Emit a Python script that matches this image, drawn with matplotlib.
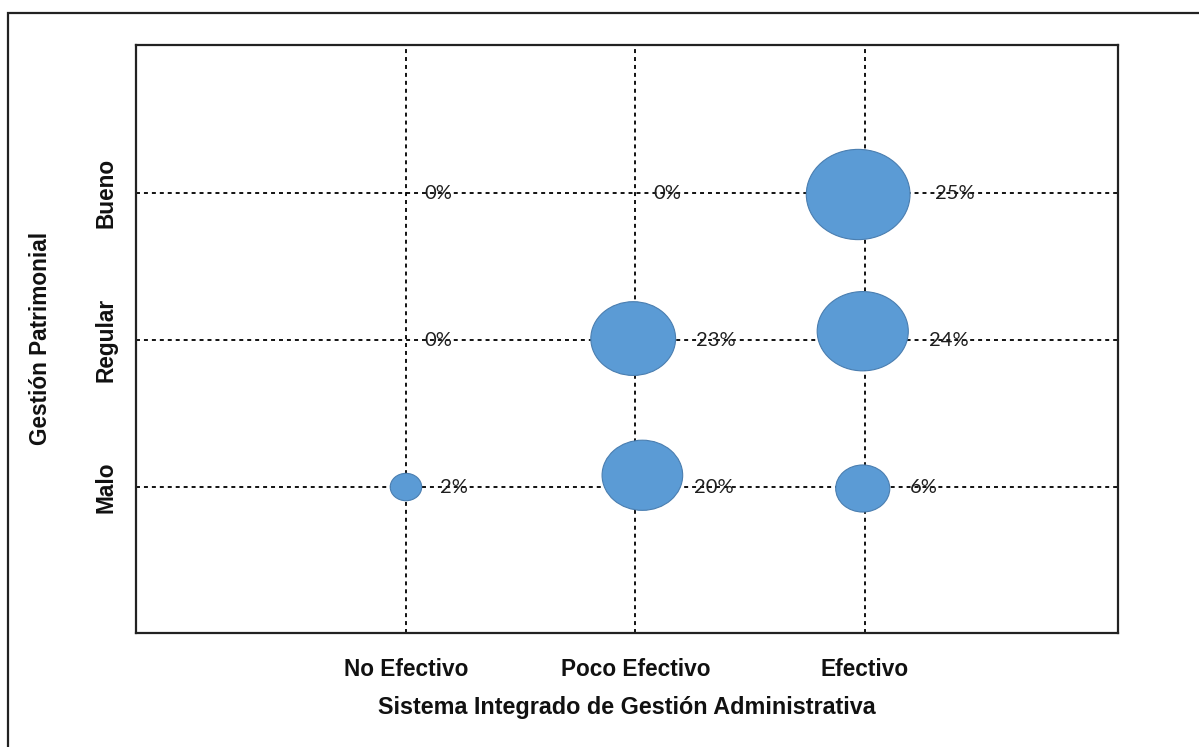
import numpy as np
import matplotlib
matplotlib.use('Agg')
import matplotlib.pyplot as plt
from matplotlib.patches import Ellipse, Rectangle

# categories
x_categories = ['No Efectivo', 'Poco Efectivo', 'Efectivo']
y_categories = ['Malo', 'Regular', 'Bueno']

# one entry per cell (x category, y category)
cell_x = [1, 1, 1, 2, 2, 2, 3, 3, 3]
cell_y = [1, 2, 3, 1, 2, 3, 1, 2, 3]
percent = [2, 0, 0, 20, 23, 0, 6, 24, 25]

# bubble centres and bubble sizes
bubble_x = [1.0, 1.0, 1.0, 2.03, 1.99, 2.0, 2.99, 2.99, 2.97]
bubble_y = [1.0, 2.0, 3.0, 1.08, 2.01, 3.0, 0.99, 2.06, 2.99]
bubble_size = [2.3, 0, 0, 15.1, 16.7, 0, 6.8, 19.3, 25.0]

W, H = 1199, 747
fig = plt.figure(figsize=(W / 100, H / 100), dpi=100)
ax = fig.add_axes([136 / W, (H - 633) / H, 982 / W, 588 / H])

ax.set_xlim(-0.176, 4.102)
ax.set_ylim(0.007, 4.007)

ax.set_xticks([1, 2, 3])
ax.set_yticks([1, 2, 3])
ax.set_xticklabels(x_categories)
ax.set_yticklabels(y_categories, rotation=90, rotation_mode='anchor',
                   ha='center', va='baseline')
ax.tick_params(length=0)
ax.tick_params(axis='x', pad=18)
ax.tick_params(axis='y', pad=17)
for t in ax.get_xticklabels() + ax.get_yticklabels():
    t.set_fontfamily('Liberation Sans')
    t.set_fontweight('bold')
    t.set_fontsize(16.3)
    t.set_color('#111111')

ax.grid(True, color='black', linestyle=(0, (2.2, 2.2)), linewidth=1.3)
ax.set_axisbelow(True)
for s in ax.spines.values():
    s.set_linewidth(1.6)
    s.set_color('#222222')

# pixel scale of the data axes
p0 = ax.transData.transform((0, 0))
p1 = ax.transData.transform((1, 1))
sx, sy = p1[0] - p0[0], p1[1] - p0[1]

stretch = 1.072
for bx, by, cx, cy, sz, pc in zip(bubble_x, bubble_y, cell_x, cell_y, bubble_size, percent):
    d = 19.35 * np.sqrt(sz)
    w_px, h_px = d * stretch, d / stretch
    if sz > 0:
        ax.add_patch(Ellipse((bx, by), w_px / sx, h_px / sy, facecolor='#5B9BD5',
                             edgecolor='#4A7EB0', linewidth=0.8, zorder=3))
    ax.annotate(f'{pc}%', xy=(cx, cy), xytext=(w_px / 2 + 18, 0),
                textcoords='offset pixels', ha='left', va='center',
                fontsize=14.5, family='Lato', color='#1f1f1f', zorder=4)

ax.set_xlabel('Sistema Integrado de Gestión Administrativa', fontsize=16.8,
              fontweight='bold', family='Liberation Sans', color='#111111', labelpad=11)
fig.text(47 / W, 1 - 338 / H, 'Gestión Patrimonial', rotation=90, rotation_mode='anchor',
         ha='center', va='baseline', fontsize=16.3, fontweight='bold',
         family='Liberation Sans', color='#111111')

# outer frame
fig.patches.append(Rectangle((8 / W, -0.1), 1.2, (H - 13) / H + 0.1, transform=fig.transFigure,
                             fill=False, linewidth=1.6, edgecolor='#222222'))

fig.savefig('out.png', dpi=100)
